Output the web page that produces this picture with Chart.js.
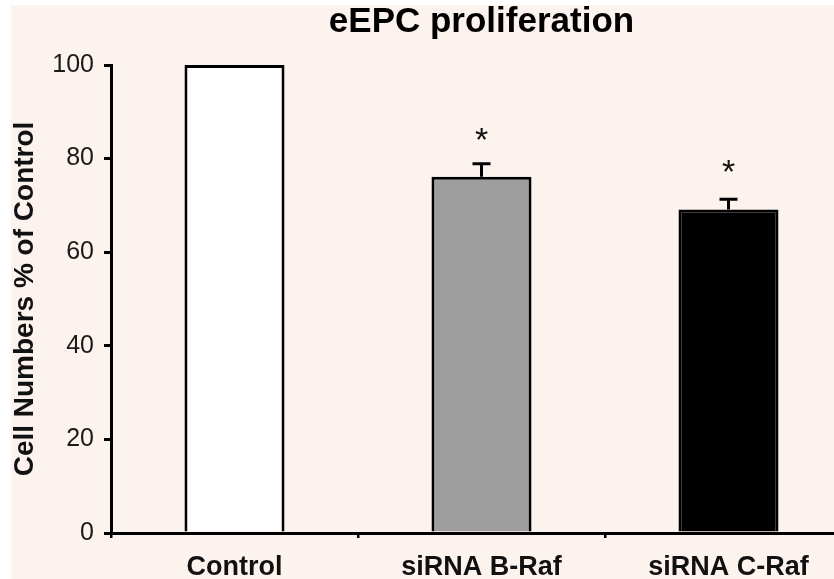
<!DOCTYPE html>
<html><head><meta charset="utf-8">
<script src="https://cdn.jsdelivr.net/npm/chart.js@4.4.0/dist/chart.umd.min.js"></script>
<style>
html,body{margin:0;padding:0;background:#fff;overflow:hidden;width:834px;height:579px;}
#wrap{position:absolute;left:11px;top:5px;width:841px;height:574px;background:#fcf2ee;}
canvas{display:block;}
</style></head><body>
<div id="wrap"><canvas id="c" width="841" height="574"></canvas></div>
<script>
// ---- data ----
const categories = ['Control', 'siRNA B-Raf', 'siRNA C-Raf'];
const values = [100, 76.1, 69.1];
const errors = [0, 2.8, 2.2];
const marks = ['', '*', '*'];
const markLevels = [null, 85.7, 79.0];
const barColors = ['#ffffff', '#9e9e9e', '#000000'];
const yTickValues = [0, 20, 40, 60, 80, 100];

const FONT = "'Liberation Sans', Arial, Helvetica, sans-serif";

const errorPlugin = {
  id: 'errAndStars',
  afterDatasetsDraw(chart) {
    const ctx = chart.ctx;
    const y = chart.scales.y;
    const meta = chart.getDatasetMeta(0);
    ctx.save();
    meta.data.forEach((bar, i) => {
      const x = bar.x;
      if (errors[i] > 0) {
        const top = y.getPixelForValue(values[i] + errors[i]);
        const base = y.getPixelForValue(values[i]);
        ctx.strokeStyle = '#000';
        ctx.lineWidth = 3;
        ctx.beginPath();
        ctx.moveTo(x, base);
        ctx.lineTo(x, top);
        ctx.moveTo(x - 9, top);
        ctx.lineTo(x + 9, top);
        ctx.stroke();
      }
      if (marks[i]) {
        const size = 34;
        const cy = y.getPixelForValue(markLevels[i]);
        ctx.fillStyle = '#111';
        ctx.font = size + 'px ' + FONT;
        ctx.textAlign = 'center';
        ctx.textBaseline = 'alphabetic';
        ctx.fillText(marks[i], x, cy + 0.57 * size);
      }
    });
    ctx.restore();
  }
};

new Chart(document.getElementById('c'), {
  type: 'bar',
  data: {
    labels: categories,
    datasets: [{
      data: values,
      backgroundColor: barColors,
      borderColor: '#000',
      borderWidth: 3,
      barPercentage: 0.405,
      categoryPercentage: 1.0
    }]
  },
  options: {
    responsive: false,
    animation: false,
    layout: { padding: 0 },
    plugins: {
      legend: { display: false },
      tooltip: { enabled: false },
      title: {
        display: true,
        text: 'eEPC proliferation',
        fullSize: false,
        color: '#000',
        font: { family: FONT, size: 35, weight: 'bold', lineHeight: 1.0 },
        padding: { top: 0, bottom: 25 }
      }
    },
    scales: {
      x: {
        afterFit(s) { s.height = 46; },
        grid: { display: true, offset: true, drawOnChartArea: false, drawTicks: true, tickLength: 5, color: '#000', lineWidth: 2.5 },
        border: { display: true, color: '#000', width: 3 },
        ticks: { color: '#111', padding: 13, font: { family: FONT, size: 27, weight: 'bold' } }
      },
      y: {
        min: 0, max: 100,
        afterFit(s) { s.width = 100; },
        afterBuildTicks(s) { s.ticks = yTickValues.map(v => ({ value: v })); },
        grid: { display: true, drawOnChartArea: false, drawTicks: true, tickLength: 7, color: '#000', lineWidth: 3 },
        border: { display: true, color: '#000', width: 3 },
        ticks: { color: '#1a1a1a', padding: 10, font: { family: FONT, size: 25 } },
        title: {
          display: true,
          text: 'Cell Numbers % of Control',
          color: '#111',
          padding: 0,
          font: { family: FONT, size: 28, weight: 'bold', lineHeight: 1.0 }
        }
      }
    }
  },
  plugins: [errorPlugin]
});
</script>
</body></html>
